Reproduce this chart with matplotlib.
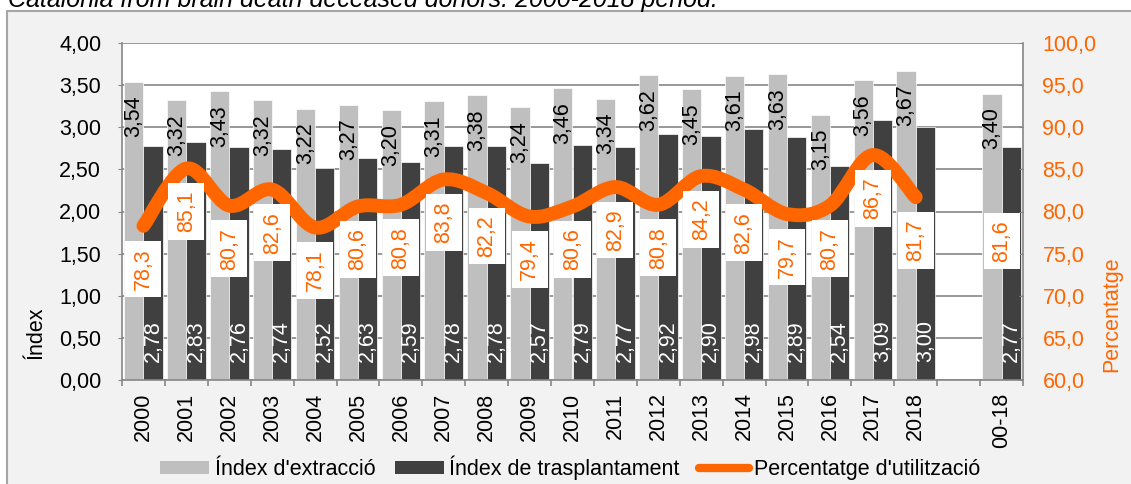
import numpy as np
import matplotlib.pyplot as plt
from matplotlib.path import Path
from matplotlib.patches import PathPatch, Rectangle, Patch
from matplotlib.lines import Line2D

plt.rcParams['font.family'] = ['Liberation Sans', 'DejaVu Sans']

# --- data ---
categories = ['2000', '2001', '2002', '2003', '2004', '2005', '2006', '2007', '2008', '2009',
              '2010', '2011', '2012', '2013', '2014', '2015', '2016', '2017', '2018', '', '00-18']
extraccio = [3.54, 3.32, 3.43, 3.32, 3.22, 3.27, 3.20, 3.31, 3.38, 3.24,
             3.46, 3.34, 3.62, 3.45, 3.61, 3.63, 3.15, 3.56, 3.67, np.nan, 3.40]
trasplant = [2.78, 2.83, 2.76, 2.74, 2.52, 2.63, 2.59, 2.78, 2.78, 2.57,
             2.79, 2.77, 2.92, 2.90, 2.98, 2.89, 2.54, 3.09, 3.00, np.nan, 2.77]
utilitzacio = [78.3, 85.1, 80.7, 82.6, 78.1, 80.6, 80.8, 83.8, 82.2, 79.4,
               80.6, 82.9, 80.8, 84.2, 82.6, 79.7, 80.7, 86.7, 81.7]
utilitzacio_total = 81.6

LIGHT = '#bfbfbf'
DARK = '#404040'
ORANGE = '#ff6600'
GRID = '#868686'
FS = 15.5

W, H = 1131, 484
fig = plt.figure(figsize=(W / 100, H / 100), dpi=100)
fig.patch.set_facecolor('white')

# chart frame
fig.patches.append(Rectangle((7 / W, -0.1), 1.2, 1 - 11 / H + 0.1, transform=fig.transFigure,
                             facecolor='#f2f2f2', edgecolor='#a6a6a6', lw=1.5, zorder=-10))
fig.text(8 / W, 1 - 7 / H, 'Catalonia from brain death deceased donors. 2000-2018 period.',
         style='italic', fontsize=18, va='baseline', ha='left')

ax = fig.add_axes([122 / W, 104 / H, 901 / W, 337 / H])
ax.set_facecolor('white')
x = np.arange(len(categories))
bw = 0.45
ax.bar(x - bw / 2, extraccio, bw, color=LIGHT, edgecolor='white', lw=0.5, zorder=2)
ax.bar(x + bw / 2, trasplant, bw, color=DARK, edgecolor='white', lw=0.5, zorder=2)

for i, (e, t) in enumerate(zip(extraccio, trasplant)):
    if np.isnan(e):
        continue
    ax.annotate(f'{e:.2f}'.replace('.', ','), (i - bw / 2, e), xytext=(0, -10), textcoords='offset points',
                rotation=90, ha='center', va='top', fontsize=FS, color='black', zorder=3)
    ax.annotate(f'{t:.2f}'.replace('.', ','), (i + bw / 2, 0), xytext=(0, 13), textcoords='offset points',
                rotation=90, ha='center', va='bottom', fontsize=FS, color='white', zorder=3)

ax.set_xlim(-0.5, len(categories) - 0.5)
ax.set_ylim(0, 4)
ax.set_yticks(np.arange(0, 4.01, 0.5))
ax.set_yticklabels([f'{v:.2f}'.replace('.', ',') for v in np.arange(0, 4.01, 0.5)], fontsize=FS)
ax.yaxis.grid(True, color=GRID, lw=1.2)
ax.set_axisbelow(True)
ax.set_xticks(x)
ax.set_xticklabels(categories, rotation=90, fontsize=FS)
ax.set_xticks(np.arange(-0.5, len(categories)), minor=True)
ax.tick_params(axis='x', which='major', length=0, pad=9)
ax.tick_params(axis='x', which='minor', length=4, color=GRID, width=1.2)
ax.tick_params(axis='y', length=3, color=GRID, pad=12)
for s in ['top', 'right']:
    ax.spines[s].set_visible(False)
for s in ['left', 'bottom']:
    ax.spines[s].set_color(GRID)
    ax.spines[s].set_linewidth(1.2)

# secondary axis: smoothed line
ax2 = ax.twinx()
ax2.set_ylim(60, 100)
ax2.set_yticks(np.arange(60, 100.1, 5))
ax2.set_yticklabels([f'{v:.1f}'.replace('.', ',') for v in np.arange(60, 100.1, 5)],
                    fontsize=FS, color=ORANGE)
ax2.tick_params(axis='y', length=3, direction='in', color=GRID, pad=14)
ax2.spines['top'].set_visible(False)
ax2.spines['left'].set_visible(False)
ax2.spines['bottom'].set_visible(False)
ax2.spines['right'].set_color(GRID)
ax2.spines['right'].set_linewidth(1.2)

px = np.arange(len(utilitzacio), dtype=float)
py = np.array(utilitzacio)
P = np.column_stack([px, py])
Pe = np.vstack([P[0], P, P[-1]])
verts = [P[0]]
codes = [Path.MOVETO]
for i in range(len(P) - 1):
    c1 = Pe[i + 1] + (Pe[i + 2] - Pe[i]) / 6
    c2 = Pe[i + 2] - (Pe[i + 3] - Pe[i + 1]) / 6
    verts += [c1, c2, Pe[i + 2]]
    codes += [Path.CURVE4] * 3
ax2.add_patch(PathPatch(Path(verts, codes), fill=False, edgecolor=ORANGE, lw=10,
                        capstyle='round', joinstyle='round', zorder=4))

label_pts = list(zip(px, utilitzacio)) + [(len(categories) - 1, utilitzacio_total)]
for xi, v in label_pts:
    ax2.annotate(f'{v:.1f}'.replace('.', ','), (xi, v), xytext=(0, -31), textcoords='offset points',
                 rotation=90, ha='center', va='center', fontsize=FS, color=ORANGE, zorder=5,
                 bbox=dict(boxstyle='square,pad=0.35', facecolor='white', edgecolor='none'))

fig.text(36 / W, 1 - 333 / H, 'Índex', rotation=90, ha='center', va='center', fontsize=FS)
fig.text(1112 / W, 1 - 314 / H, 'Percentatge', rotation=90, ha='center', va='center',
         fontsize=FS, color=ORANGE)

handles = [Patch(facecolor=LIGHT, edgecolor='none'),
           Patch(facecolor=DARK, edgecolor='none'),
           Line2D([], [], color=ORANGE, lw=6, solid_capstyle='round')]
fig.legend(handles, ["Índex d'extracció", 'Índex de trasplantament', "Percentatge d'utilització"],
           loc='center', bbox_to_anchor=(570 / W, 1 - 468 / H), ncol=3, frameon=False,
           fontsize=FS, handlelength=2.3, handleheight=0.5, handletextpad=0.25,
           columnspacing=0.9)

fig.savefig('out.png', dpi=100)
